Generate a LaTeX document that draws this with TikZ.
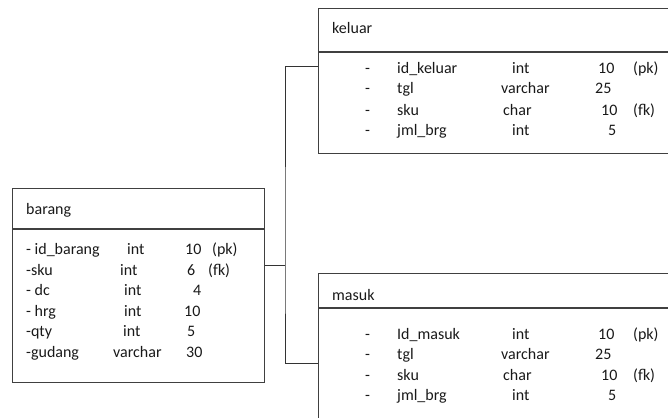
\documentclass[tikz,border=0pt]{standalone}
\usepackage{fontspec}
\setmainfont{Carlito}
\begin{document}
\begin{tikzpicture}[
        x=1pt, y=-1pt,
        tableBox/.style={
            rectangle,
            draw=black!75,
            line width=1.2pt,
            inner sep=0pt,
            anchor=north west
        },
        headLine/.style={
            draw=black!75,
            line width=1.2pt
        },
        link/.style={
            draw=black!80,
            line width=1pt
        },
        fieldText/.style={
            anchor=base west,
            inner sep=0pt,
            text=black!90,
            font=\fontsize{16}{19}\selectfont
        }
    ]

        \useasboundingbox (0,0) rectangle (668,417);
        \clip (0,0) rectangle (668,417);

        % tables
        \node[tableBox, minimum width=252pt, minimum height=194pt] (barang) at (12,188) {};
        \node[tableBox, minimum width=380pt, minimum height=145pt] (keluar) at (318,8) {};
        \node[tableBox, minimum width=380pt, minimum height=170pt] (masuk) at (318,273) {};

        \draw[headLine] ([yshift=-41pt]barang.north west) -- ([yshift=-41pt]barang.north east);
        \draw[headLine] ([yshift=-44pt]keluar.north west) -- ([yshift=-44pt]keluar.north east);
        \draw[headLine] ([yshift=-35pt]masuk.north west) -- ([yshift=-35pt]masuk.north east);

        % relation lines
        \coordinate (hub) at (285,265);
        \coordinate (kelIn) at (318,67);
        \coordinate (masIn) at (318,363);
        \draw[link] (barang.east |- hub) -- (hub);
        \draw[link] (kelIn) -| (hub) |- (masIn);

        % barang
        \node[fieldText] (tBarang) at (26,214) {barang};
        \foreach \y/\nm/\tx/\tp/\sx/\sz [count=\i] in {
            254/{- id\_barang}/127/int/185/10,
            275/{-sku}/120/int/187/6,
            295/{- dc}/124/int/193/4,
            316/{- hrg}/124/int/184/10,
            336/{-qty}/123/int/187/5,
            357/{-gudang}/113/varchar/186/30} {
            \node[fieldText] (bName\i) at (26,\y) {\nm};
            \node[fieldText] (bType\i) at (\tx,\y) {\tp};
            \node[fieldText] (bSize\i) at (\sx,\y) {\sz};
        }
        \node[fieldText] (bKey1) at (212,254) {(pk)};
        \node[fieldText] (bKey2) at (208,275) {(fk)};

        % keluar and masuk
        \node[fieldText] (tKeluar) at (332,34) {keluar};
        \node[fieldText] (tMasuk) at (332,300) {masuk};
        \foreach \tb/\dy/\idn in {k/0/{id\_keluar}, m/265/{Id\_masuk}} {
            \foreach \y/\nm/\tx/\tp/\sx/\sz [count=\i] in {
                74/{\idn}/512/int/598/10,
                94/tgl/501/varchar/595/25,
                115/sku/503/char/601/10,
                135/{jml\_brg}/512/int/608/5} {
                \node[fieldText] (\tb Dash\i) at (365,\y+\dy) {-};
                \node[fieldText] (\tb Name\i) at (397,\y+\dy) {\nm};
                \node[fieldText] (\tb Type\i) at (\tx,\y+\dy) {\tp};
                \node[fieldText] (\tb Size\i) at (\sx,\y+\dy) {\sz};
            }
            \node[fieldText] (\tb Key1) at (633,74+\dy) {(pk)};
            \node[fieldText] (\tb Key3) at (633,115+\dy) {(fk)};
        }

    \end{tikzpicture}
\end{document}
